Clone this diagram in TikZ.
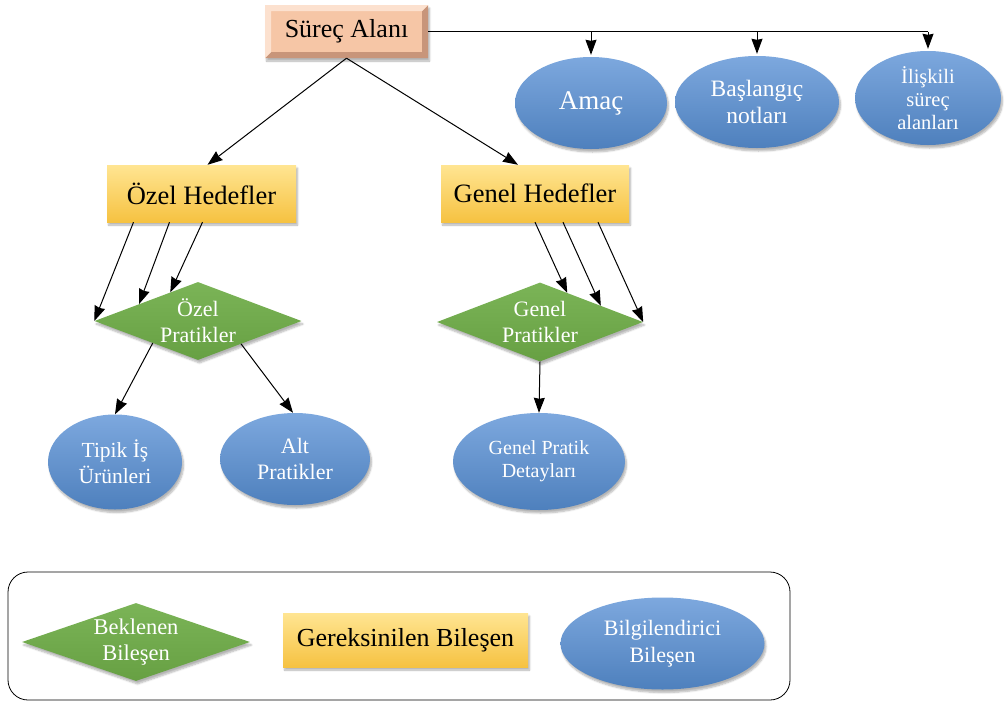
\documentclass[tikz,border=0pt]{standalone}
\usepackage{fontspec}
\setmainfont{Liberation Serif}
\usetikzlibrary{shapes.geometric,arrows.meta,calc,shadows.blur}

\definecolor{blueTop}{HTML}{7DA8DE}
\definecolor{blueBot}{HTML}{4E80BD}
\definecolor{greenTop}{HTML}{7BB457}
\definecolor{greenBot}{HTML}{67A043}
\definecolor{yellowTop}{HTML}{FFE592}
\definecolor{yellowBot}{HTML}{F6C241}
\definecolor{peach}{HTML}{F6C6A6}
\definecolor{peachDark}{HTML}{C8957A}
\definecolor{peachLight}{HTML}{FCE1CF}

\newcommand{\fs}[2]{\fontsize{#1}{#2}\selectfont}

\tikzset{
  softshadow/.style={blur shadow={shadow blur steps=6, shadow xshift=1.5pt, shadow yshift=-3pt, shadow opacity=30}},
  info/.style={ellipse, inner sep=0pt, top color=blueTop, bottom color=blueBot,
    text=white, align=center, softshadow},
  expected/.style={diamond, inner sep=0pt, aspect=2.7, top color=greenTop, bottom color=greenBot,
    text=white, align=center, softshadow},
  required/.style={rectangle, inner sep=0pt, top color=yellowTop, bottom color=yellowBot,
    text=black, align=center, softshadow},
  bevelbox/.style={rectangle, inner sep=0pt, fill=peach, text=black, softshadow,
    path picture={
      \fill[peachDark]
        (path picture bounding box.south west) -- (path picture bounding box.south east)
        -- (path picture bounding box.north east)
        -- ([xshift=-6pt,yshift=-6pt]path picture bounding box.north east)
        -- ([xshift=-6pt,yshift=6pt]path picture bounding box.south east)
        -- ([xshift=6pt,yshift=6pt]path picture bounding box.south west) -- cycle;
      \fill[peachLight]
        (path picture bounding box.south west) -- (path picture bounding box.north west)
        -- (path picture bounding box.north east)
        -- ([xshift=-6pt,yshift=-6pt]path picture bounding box.north east)
        -- ([xshift=6pt,yshift=-6pt]path picture bounding box.north west)
        -- ([xshift=6pt,yshift=6pt]path picture bounding box.south west) -- cycle;
    }},
  link/.style={line width=1pt, draw=black, -{Stealth[length=15pt, width=11pt, inset=1pt]}},
  plain/.style={line width=1pt, draw=black},
}

\begin{document}
\begin{tikzpicture}[x=1pt,y=-1pt]
  \useasboundingbox (0,0) rectangle (1005,702);

  % top level
  \node[bevelbox, minimum width=163pt, minimum height=53pt, font=\fs{26}{29}] (sa) at (346.5,31.5) {Süreç Alanı};

  \node[info, minimum width=152pt, minimum height=92pt, font=\fs{27}{30}] (amac) at (591,103) {Amaç};
  \node[info, minimum width=164pt, minimum height=92pt, font=\fs{23.5}{27}] (basl) at (757,102) {Başlangıç\\notları};
  \node[info, minimum width=146pt, minimum height=94pt, font=\fs{20.5}{23}] (ilis) at (928,98) {İlişkili\\süreç\\alanları};

  % goals
  \node[required, minimum width=189pt, minimum height=57pt, font=\fs{26.5}{29}] (oh) at (201.5,193.5) {Özel Hedefler};
  \node[required, minimum width=188pt, minimum height=57pt, font=\fs{26.5}{29}] (gh) at (535,193.5) {Genel Hedefler};

  % practices
  \node[expected, minimum width=207pt, minimum height=78pt, font=\fs{22}{26}] (op) at (198,321) {Özel\\Pratikler};
  \node[expected, minimum width=206pt, minimum height=79pt, font=\fs{22}{26}] (gp) at (540,322) {Genel\\Pratikler};

  % details
  \node[info, minimum width=134pt, minimum height=95pt, font=\fs{21.5}{26}] (tipik) at (115,462) {Tipik İş\\Ürünleri};
  \node[info, minimum width=150pt, minimum height=92pt, font=\fs{22}{26}] (alt) at (295,459) {Alt\\Pratikler};
  \node[info, minimum width=172pt, minimum height=97pt, font=\fs{20}{23}] (gpd) at (539,461.5) {Genel Pratik\\Detayları};

  % connectors from the process area
  \draw[plain] (sa.east) -- (ilis.north |- sa.east);
  \draw[link] (amac.north |- sa.east) -- ([yshift=2pt]amac.north);
  \draw[link] (basl.north |- sa.east) -- ([yshift=2pt]basl.north);
  \draw[link] (ilis.north |- sa.east) -- ([yshift=2pt]ilis.north);
  \draw[link] (sa.south) -- ($(oh.north)+(6,0)$);
  \draw[link] (sa.south) -- ($(gh.north)+(-17,0)$);

  % goals to practices
  \draw[link] ($(oh.south)+(-68,0)$) -- (op.west);
  \draw[link] ($(oh.south)+(-32,0)$) -- (op.164);
  \draw[link] ($(oh.south)+(1,0)$) -- (op.134);
  \draw[link] ($(gh.south)+(0,0)$) -- (gp.47);
  \draw[link] ($(gh.south)+(28,0)$) -- (gp.15);
  \draw[link] ($(gh.south)+(63,0)$) -- (gp.east);

  % practices to details
  \draw[link] (op.-154) -- (tipik.north);
  \draw[link] (op.-28) -- ($(alt.north)+(-2,0)$);
  \draw[link] (gp.south) -- (gpd.north);

  % legend
  \node[draw=black, line width=0.8pt, rounded corners=20pt, minimum width=782pt, minimum height=128pt] (legend) at (399,636) {};
  \node[expected, aspect=2.9, minimum width=228pt, minimum height=78pt, font=\fs{22.5}{26}] (lexp) at (136,642) {Beklenen\\Bileşen};
  \node[required, minimum width=245pt, minimum height=54pt, font=\fs{26}{29}] (lreq) at (405.5,640) {Gereksinilen Bileşen};
  \node[info, minimum width=204pt, minimum height=92pt, font=\fs{22}{27}] (linf) at (662.5,643.5) {Bilgilendirici\\Bileşen};
\end{tikzpicture}
\end{document}
